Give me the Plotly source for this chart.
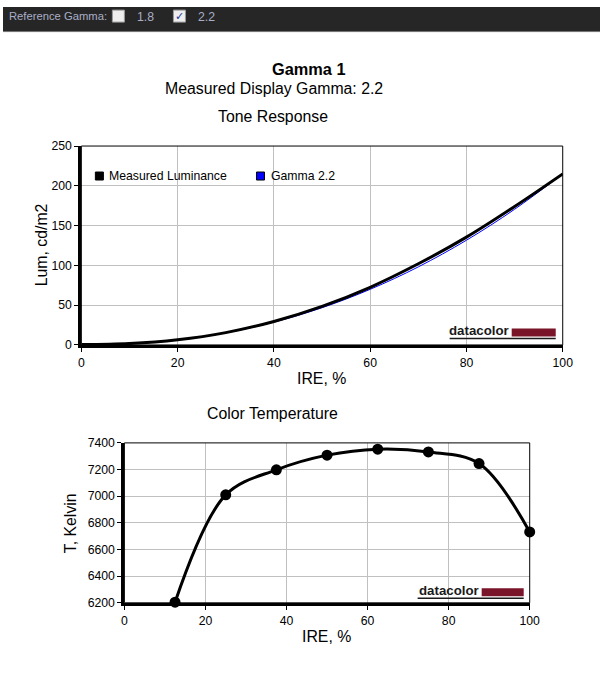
import plotly.graph_objects as go

# ---------------- data ----------------
ire_lum = [0, 10, 20, 30, 40, 50, 60, 70, 80, 90, 100]
measured_lum = [0.5, 1.8, 6.5, 15.5, 29.5, 48.5, 72.5, 102, 135.5, 174, 215]
gamma22_lum = [0, 1.4, 6.2, 15.2, 28.7, 46.8, 69.9, 98.1, 131.6, 170.5, 215]

ire_ct = [12.5, 25, 37.5, 50, 62.5, 75, 87.5, 100]
color_temp = [6205, 7010, 7198, 7308, 7353, 7332, 7245, 6732]

lum_ticks = [0, 50, 100, 150, 200, 250]
ct_ticks = [6200, 6400, 6600, 6800, 7000, 7200, 7400]
ire_ticks = [0, 20, 40, 60, 80, 100]

W, H = 612, 684
# map target picture pixels to paper fractions (compensates capture scaling)
SX, OX, SY, OY = 0.978, 2.7, 0.98, 5.9
def px(x): return ((x - OX) / SX) / W
def py(y): return 1 - ((y - OY) / SY) / H
FS = 1 / 0.979
def fs(s): return round(s * FS, 2)

FONT = "Liberation Sans, Arial, sans-serif"

fig = go.Figure()

fig.add_trace(go.Scatter(x=ire_lum, y=gamma22_lum, mode="lines", name="Gamma 2.2",
                         line=dict(color="#0000ff", width=1, shape="spline", smoothing=1.0),
                         xaxis="x", yaxis="y", showlegend=False))
fig.add_trace(go.Scatter(x=ire_lum, y=measured_lum, mode="lines", name="Measured Luminance",
                         line=dict(color="black", width=3, shape="spline", smoothing=1.0),
                         xaxis="x", yaxis="y", showlegend=False))
fig.add_trace(go.Scatter(x=ire_ct, y=color_temp, mode="lines+markers", name="Color Temperature",
                         line=dict(color="black", width=3, shape="spline", smoothing=1.0),
                         marker=dict(color="black", size=11),
                         xaxis="x2", yaxis="y2", showlegend=False, cliponaxis=False))

axis_common = dict(showgrid=True, gridcolor="#c0c0c0", gridwidth=1, zeroline=False,
                   showline=True, linecolor="black", linewidth=3, mirror=False,
                   ticks="outside", ticklen=4, tickwidth=1, tickcolor="black",
                   tickfont=dict(family=FONT, size=fs(12), color="black"))

fig.update_layout(
    width=W, height=H,
    margin=dict(l=0, r=0, t=0, b=0),
    paper_bgcolor="white", plot_bgcolor="white",
    showlegend=False,
    xaxis=dict(domain=[px(81), px(562)], range=[0, 100], tickvals=ire_ticks, anchor="y", **axis_common),
    yaxis=dict(domain=[py(344), py(145)], range=[0, 250], tickvals=lum_ticks, anchor="x", **axis_common),
    xaxis2=dict(domain=[px(124), px(529)], range=[0, 100], tickvals=ire_ticks, anchor="y2", **axis_common),
    yaxis2=dict(domain=[py(602), py(442)], range=[6200, 7400], tickvals=ct_ticks, anchor="x2", **axis_common),
)

shapes = []
ann = []

# thin frame around plot areas
for xr, yr in (("x domain", "y domain"), ("x2 domain", "y2 domain")):
    shapes.append(dict(type="rect", xref=xr, yref=yr, x0=0, x1=1, y0=0, y1=1,
                       line=dict(color="black", width=1), layer="above"))

# top dark bar
shapes.append(dict(type="rect", xref="paper", yref="paper", x0=0, x1=1, y0=py(30), y1=1,
                   fillcolor="#262626", line=dict(width=0), layer="above"))
shapes.append(dict(type="line", xref="paper", yref="paper", x0=0, x1=1, y0=py(30.5), y1=py(30.5),
                   line=dict(color="#6a6a6a", width=1), layer="above"))
# checkboxes
for x0 in (112, 173):
    shapes.append(dict(type="rect", xref="paper", yref="paper", x0=px(x0), x1=px(x0 + 12),
                       y0=py(21), y1=py(9), fillcolor="#eeeeee",
                       line=dict(color="#9a9a9a", width=1), layer="above"))
TOPFONT = "Liberation Sans, Arial, sans-serif"
ann.append(dict(text="Reference Gamma:", x=px(7), y=py(15), xref="paper", yref="paper",
                xanchor="left", yanchor="middle", showarrow=False,
                font=dict(family=TOPFONT, size=fs(11), color="#a9aec6")))
ann.append(dict(text="1.8", x=px(135), y=py(16), xref="paper", yref="paper",
                xanchor="left", yanchor="middle", showarrow=False,
                font=dict(family=TOPFONT, size=fs(12), color="#a9aec6")))
ann.append(dict(text="2.2", x=px(196), y=py(16), xref="paper", yref="paper",
                xanchor="left", yanchor="middle", showarrow=False,
                font=dict(family=TOPFONT, size=fs(12), color="#a9aec6")))
ann.append(dict(text="✓", x=px(179), y=py(15), xref="paper", yref="paper",
                xanchor="center", yanchor="middle", showarrow=False,
                font=dict(family="DejaVu Sans", size=fs(11), color="#2a3a9a")))

# titles
def txt(t, x, y, size=16, anchor="center", angle=0, color="black"):
    ann.append(dict(text=t, x=px(x), y=py(y), xref="paper", yref="paper",
                    xanchor=anchor, yanchor="middle", showarrow=False, textangle=angle,
                    font=dict(family=FONT, size=fs(size), color=color)))

txt("<b>Gamma 1</b>", 308, 68, 16)
txt("Measured Display Gamma: 2.2", 273, 87, 15.5)
txt("Tone Response", 272, 115, 15.5)
txt("IRE, %", 321, 378, 15.5)
txt("Lum, cd/m2", 42, 244, 15.5, angle=-90)
txt("Color Temperature", 272, 413, 15.5)
txt("IRE, %", 326, 636, 15.5)
txt("T, Kelvin", 71, 522, 15.5, angle=-90)

# legend (manual, square swatches)
for sx, col, label in ((95, "black", "Measured Luminance"), (256, "#0000ff", "Gamma 2.2")):
    shapes.append(dict(type="rect", xref="paper", yref="paper", x0=px(sx), x1=px(sx + 8),
                       y0=py(179), y1=py(171), fillcolor=col, line=dict(color="black", width=1),
                       layer="above"))
    txt(label, sx + 12, 175, 12, anchor="left")

# datacolor logos
def logo(tx, bar0, bar1, ytext, underline_y):
    ann.append(dict(text="<b>datacolor</b>", x=px(bar0 - 1), y=py(ytext), xref="paper", yref="paper",
                    xanchor="right", yanchor="middle", showarrow=False,
                    font=dict(family=FONT, size=fs(13), color="#1a1a1a")))
    shapes.append(dict(type="rect", xref="paper", yref="paper", x0=px(bar0), x1=px(bar1),
                       y0=py(underline_y - 2), y1=py(underline_y - 10),
                       fillcolor="#7a1428", line=dict(width=0), layer="above"))
    shapes.append(dict(type="line", xref="paper", yref="paper", x0=px(tx), x1=px(bar1),
                       y0=py(underline_y), y1=py(underline_y),
                       line=dict(color="#1a1a1a", width=1.5), layer="above"))

logo(449, 511, 555, 330, 337.5)
logo(417, 481, 523, 590, 597.5)

fig.update_layout(shapes=shapes, annotations=ann)
fig.write_html("out.html", config={"displayModeBar": False},
               post_script="document.body.style.margin='0';document.body.style.overflow='hidden';")
